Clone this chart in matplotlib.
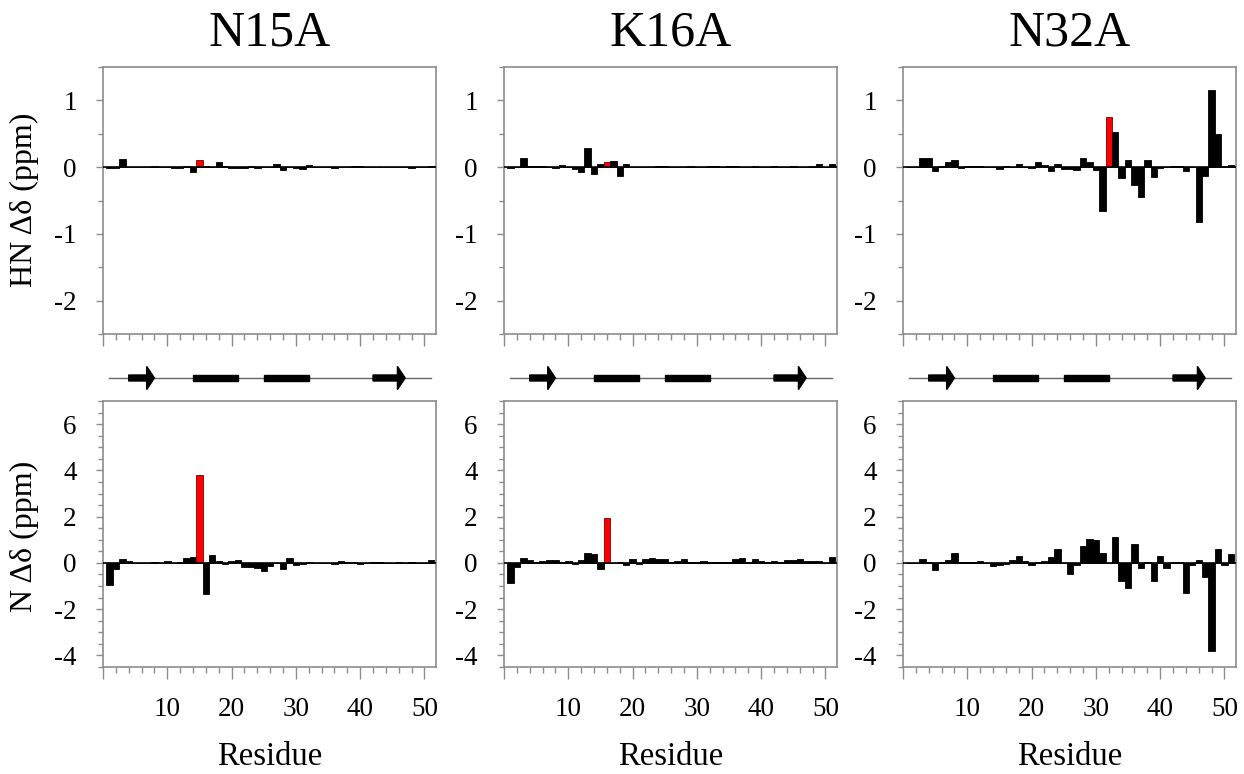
import numpy as np
import matplotlib
matplotlib.use("Agg")
import matplotlib.pyplot as plt
from matplotlib.ticker import MultipleLocator, FixedLocator

plt.rcParams['font.family'] = ['Liberation Serif', 'DejaVu Serif']
plt.rcParams['axes.unicode_minus'] = False

# chemical shift perturbations, residues 1..51
residues = np.arange(1, 52)
mutants = ["N15A", "K16A", "N32A"]
mutated_residue = [15, 16, 32]

n15a_hn = [-0.01, -0.01, 0.12, 0.00, 0.00, 0.00, 0.00, 0.01, 0.00, 0.00,
           -0.01, -0.01, 0.01, -0.07, 0.10, 0.02, 0.00, 0.08, 0.02, -0.02,
           -0.01, -0.01, 0.02, -0.01, 0.00, 0.00, 0.05, -0.04, 0.00, -0.01,
           -0.03, 0.03, 0.00, 0.00, 0.00, -0.01, 0.00, 0.00, 0.01, 0.01,
           0.00, 0.00, 0.00, 0.00, 0.00, 0.00, 0.00, -0.01, 0.00, 0.00, 0.01]
k16a_hn = [-0.01, 0.00, 0.14, 0.02, 0.01, 0.01, 0.00, -0.01, 0.03, 0.00,
           -0.03, -0.08, 0.28, -0.10, 0.05, 0.08, 0.09, -0.13, 0.05, 0.00,
           0.00, 0.00, 0.00, 0.01, 0.01, 0.00, 0.00, 0.00, 0.02, 0.00,
           0.00, 0.02, 0.01, 0.00, 0.01, 0.01, 0.00, 0.00, 0.01, 0.00,
           0.00, 0.01, 0.00, 0.00, 0.01, 0.00, 0.00, 0.01, 0.05, 0.00, 0.04]
n32a_hn = [0.00, 0.00, 0.13, 0.13, -0.06, 0.01, 0.07, 0.11, -0.02, 0.01,
           0.01, 0.01, 0.00, 0.00, -0.03, 0.02, 0.00, 0.05, 0.00, -0.02,
           0.07, 0.03, -0.06, 0.04, -0.03, -0.03, -0.04, 0.14, 0.08, -0.05,
           -0.65, 0.75, 0.52, -0.16, 0.11, -0.27, -0.45, 0.10, -0.15, -0.02,
           0.00, 0.01, 0.02, -0.06, 0.00, -0.82, -0.13, 1.15, 0.50, 0.02, 0.03]

n15a_n = [-0.95, -0.25, 0.15, 0.10, -0.02, 0.00, 0.00, 0.02, 0.00, 0.07,
          0.00, 0.02, 0.22, 0.27, 3.81, -1.33, 0.33, 0.08, -0.05, 0.10,
          0.14, -0.17, -0.17, -0.20, -0.34, -0.12, 0.00, -0.28, 0.23, -0.08,
          -0.03, 0.05, 0.00, 0.00, 0.00, -0.05, 0.07, 0.02, 0.05, -0.03,
          0.01, 0.02, 0.02, 0.00, 0.00, 0.02, 0.00, 0.03, -0.01, 0.00, 0.12]
k16a_n = [-0.87, -0.17, 0.22, 0.12, 0.02, 0.08, 0.12, 0.12, 0.05, 0.07,
          -0.03, 0.12, 0.42, 0.40, -0.25, 1.96, -0.02, 0.06, -0.10, 0.15,
          -0.05, 0.17, 0.20, 0.15, 0.17, 0.06, 0.07, 0.15, 0.06, 0.05,
          0.07, 0.05, 0.05, 0.05, 0.05, 0.15, 0.22, 0.05, 0.15, 0.08,
          0.02, 0.10, 0.06, 0.12, 0.13, 0.15, 0.10, 0.08, 0.08, 0.00, 0.27]
n32a_n = [0.00, 0.00, 0.16, 0.05, -0.32, 0.03, 0.12, 0.41, 0.05, 0.05,
          0.05, 0.07, 0.00, -0.12, -0.07, -0.05, 0.12, 0.30, 0.08, -0.10,
          0.03, 0.10, 0.25, 0.60, -0.02, -0.50, -0.07, 0.75, 1.05, 1.00,
          0.45, -0.02, 1.10, -0.80, -1.10, 0.80, -0.20, 0.05, -0.80, 0.28,
          -0.20, 0.03, 0.03, -1.30, -0.10, 0.12, -0.60, -3.80, 0.58, -0.10, 0.37]

hn_data = [n15a_hn, k16a_hn, n32a_hn]
n_data = [n15a_n, k16a_n, n32a_n]

# secondary structure (residue ranges)
strands = [(4, 8), (42, 47)]
helices = [(14, 21), (25, 32)]

W, H = 1244, 774
fig = plt.figure(figsize=(W / 100, H / 100), dpi=100)
SPINE = '#8c8c8c'


def px_axes(x0, y0, w, h):
    return fig.add_axes([x0 / W, 1 - (y0 + h) / H, w / W, h / H])


def style(ax, ylim, major, minor, xlabels):
    ax.set_xlim(0, 51.8)
    ax.set_ylim(*ylim)
    ax.xaxis.set_major_locator(FixedLocator([0, 10, 20, 30, 40, 50]))
    ax.xaxis.set_minor_locator(MultipleLocator(2))
    ax.yaxis.set_major_locator(MultipleLocator(major))
    ax.yaxis.set_minor_locator(MultipleLocator(minor))
    if xlabels:
        ax.set_xticklabels(['', '10', '20', '30', '40', '50'])
    else:
        ax.set_xticklabels([])
    for s in ax.spines.values():
        s.set_color(SPINE)
        s.set_linewidth(1.2)
    ax.tick_params(axis='x', which='major', length=8.6, width=1, color=SPINE,
                   pad=13, labelsize=19.5)
    ax.tick_params(axis='x', which='minor', length=4.3, width=1, color=SPINE)
    ax.tick_params(axis='y', which='major', length=5, width=1, color=SPINE,
                   pad=14, labelsize=19.5)
    ax.tick_params(axis='y', which='minor', length=3.5, width=1, color=SPINE)


def draw_bars(ax, values, red_res):
    colors = ['red' if r == red_res else 'black' for r in residues]
    edges = ['#7a0000' if r == red_res else 'black' for r in residues]
    ax.bar(residues, values, width=1.0, color=colors, edgecolor=edges,
           linewidth=0.6)
    ax.axhline(0, color='black', lw=1.2, zorder=3)


lefts = [103, 504, 903]
pw = 333

for i in range(3):
    left = lefts[i]
    ax_top = px_axes(left, 67, pw, 267)
    draw_bars(ax_top, hn_data[i], mutated_residue[i])
    style(ax_top, (-2.5, 1.5), 1, 0.5, False)

    ax_bot = px_axes(left, 401, pw, 266)
    draw_bars(ax_bot, n_data[i], mutated_residue[i])
    style(ax_bot, (-4.5, 7), 2, 0.5, True)

    # secondary structure strip
    ax_ss = px_axes(left, 358, pw, 40)
    ax_ss.set_xlim(0, 51.8)
    ax_ss.set_ylim(-1, 1)
    ax_ss.axis('off')
    ax_ss.plot([1, 51], [0, 0], color='#666666', lw=1.0, zorder=1)
    body, head, hl = 0.15, 0.58, 1.2
    for s, e in strands:
        xs = [s, e - hl, e - hl, e, e - hl, e - hl, s]
        ys = [-body, -body, -head, 0, head, body, body]
        ax_ss.fill(xs, ys, color='black', zorder=2)
    for s, e in helices:
        ax_ss.fill([s, e, e, s], [-0.17, -0.17, 0.17, 0.17], color='black', zorder=2)

    cx = (left + pw / 2) / W
    fig.text(cx, 1 - 33 / H, mutants[i], ha='center', va='center', fontsize=36)
    fig.text(cx, 1 - 757 / H, 'Residue', ha='center', va='center', fontsize=23.5)

fig.text(24 / W, 1 - 200 / H, 'HN Δδ (ppm)', rotation=90, ha='center',
         va='center', fontsize=23)
fig.text(24 / W, 1 - 536 / H, 'N Δδ (ppm)', rotation=90, ha='center',
         va='center', fontsize=23)

fig.savefig('out.png', dpi=100)
